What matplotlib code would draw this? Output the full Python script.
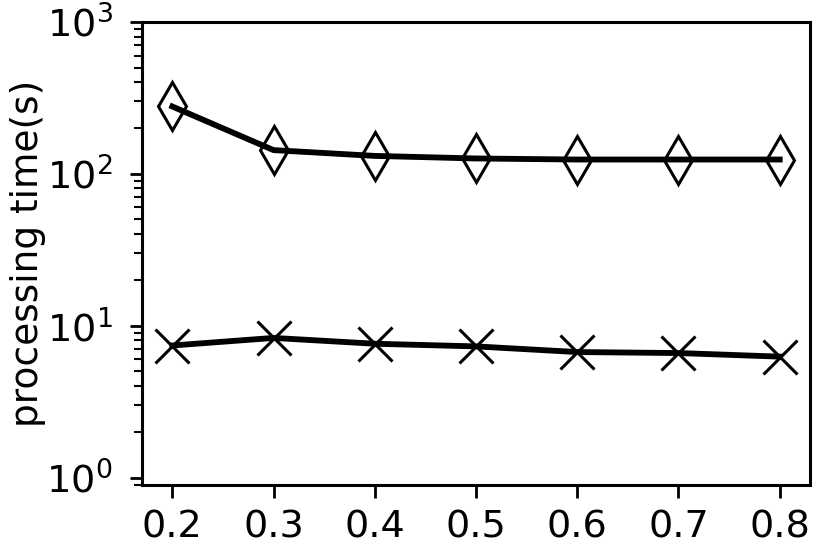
import matplotlib
matplotlib.use('Agg')
import matplotlib.pyplot as plt

# values
ratios = [0.2, 0.3, 0.4, 0.5, 0.6, 0.7, 0.8]
time_diamond = [277, 143, 131, 126, 124, 124, 124]
time_cross = [7.4, 8.3, 7.6, 7.3, 6.7, 6.6, 6.25]
xtick_labels = ['0.2', '0.3', '0.4', '0.5', '0.6', '0.7', '0.8']

plt.rcParams['font.family'] = 'DejaVu Sans'
plt.rcParams['mathtext.fontset'] = 'dejavusans'

fig, ax = plt.subplots(figsize=(8.3, 5.45), dpi=100)
fig.subplots_adjust(left=0.171, right=0.976, top=0.960, bottom=0.111)

ax.plot(ratios, time_diamond, color='black', linewidth=4.2,
        marker='d', markersize=24, markerfacecolor='none',
        markeredgecolor='black', markeredgewidth=2.2)
ax.plot(ratios, time_cross, color='black', linewidth=4.2,
        marker='x', markersize=24, markeredgewidth=2.2)

ax.set_yscale('log')
ax.set_ylim(0.9, 1000)
ax.set_xticks(ratios)
ax.set_xticklabels(xtick_labels)
ax.set_ylabel('processing time(s)', fontsize=27, labelpad=0)

ax.tick_params(axis='both', which='major', labelsize=27.5, length=9, width=2)
ax.tick_params(axis='x', which='major', pad=9)
ax.tick_params(axis='y', which='major', pad=12)
ax.tick_params(axis='y', which='minor', length=6, width=1.5)
for s in ax.spines.values():
    s.set_linewidth(2.2)

fig.savefig('out.png', dpi=100)
